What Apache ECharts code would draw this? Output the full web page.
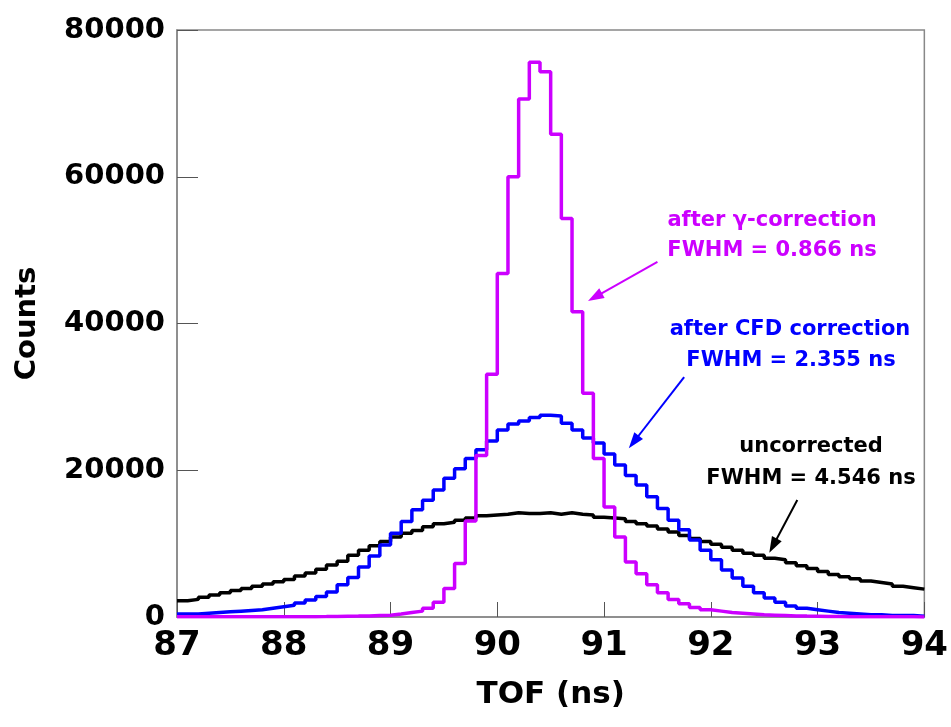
<!DOCTYPE html>
<html>
<head>
<meta charset="utf-8">
<script src="https://cdn.jsdelivr.net/npm/echarts@6/dist/echarts.min.js"></script>
<style>
html, body { margin: 0; padding: 0; background: #fff; }
#chart { width: 951px; height: 727px; }
</style>
</head>
<body>
<div id="chart"></div>
<script>
// histogram binning: 70 bins of 0.1 ns from 87 to 94
const binLow = 87;
const binWidth = 0.1;

// counts per bin (in thousands)
const uncorrected = [
    2.2, 2.4, 2.7, 3.0, 3.3, 3.6, 3.9, 4.2, 4.5, 4.8,
    5.1, 5.6, 6.0, 6.5, 7.1, 7.6, 8.4, 9.1, 9.7, 10.3,
    10.9, 11.4, 11.8, 12.3, 12.7, 12.9, 13.2, 13.5, 13.8, 13.9,
    14.0, 14.2, 14.1, 14.1, 14.2, 14.0, 14.2, 14.0, 13.9, 13.6,
    13.5, 13.4, 13.0, 12.7, 12.4, 12.0, 11.6, 11.1, 10.7, 10.3,
    9.9, 9.5, 9.1, 8.7, 8.4, 8.0, 7.8, 7.4, 7.0, 6.6,
    6.2, 5.8, 5.5, 5.2, 4.9, 4.7, 4.5, 4.2, 4.0, 3.8
];
const cfdCorrected = [
    0.4, 0.4, 0.5, 0.6, 0.7, 0.8, 0.9, 1.0, 1.2, 1.4,
    1.6, 1.9, 2.3, 2.8, 3.4, 4.4, 5.4, 6.8, 8.3, 9.8,
    11.4, 13.0, 14.6, 15.9, 17.3, 18.9, 20.2, 21.6, 22.8, 24.0,
    25.5, 26.3, 26.7, 27.2, 27.5, 27.4, 26.4, 25.5, 24.4, 23.7,
    22.2, 20.7, 19.3, 18.0, 16.4, 14.8, 13.2, 11.9, 10.5, 9.1,
    7.8, 6.4, 5.3, 4.2, 3.3, 2.6, 2.0, 1.5, 1.2, 1.0,
    0.8, 0.6, 0.5, 0.4, 0.3, 0.3, 0.2, 0.2, 0.2, 0.1
];
const gammaCorrected = [
    0.02, 0.02, 0.02, 0.02, 0.02, 0.02, 0.02, 0.02, 0.02, 0.02,
    0.03, 0.04, 0.05, 0.06, 0.08, 0.1, 0.12, 0.15, 0.2, 0.25,
    0.4, 0.6, 0.8, 1.2, 2.0, 3.9, 7.3, 13.1, 22.0, 33.1,
    46.8, 60.0, 70.6, 75.6, 74.3, 65.8, 54.3, 41.6, 30.5, 21.6,
    15.0, 10.9, 7.5, 5.9, 4.4, 3.3, 2.4, 1.8, 1.3, 1.0,
    0.8, 0.6, 0.5, 0.4, 0.3, 0.25, 0.2, 0.15, 0.12, 0.1,
    0.08, 0.06, 0.05, 0.04, 0.03, 0.03, 0.02, 0.02, 0.02, 0.01
];

// annotation arrows [x0, y0(k), x1, y1(k)] in data units
const gammaArrow = [91.50, 48.4, 90.915, 43.6];
const cfdArrow = [91.75, 32.7, 91.278, 23.85];
const uncorrArrow = [92.81, 15.95, 92.583, 9.72];

const FONT = '"DejaVu Sans", sans-serif';

function histData(vals) {
    let res = [];
    for (let i = 0; i < vals.length; i++) {
        res.push([+(binLow + i * binWidth).toFixed(1), vals[i] * 1000]);
    }
    // close the last bin
    res.push([+(binLow + vals.length * binWidth).toFixed(1), vals[vals.length - 1] * 1000]);
    return res;
}

function arrowLine(a, color) {
    return {
        silent: true,
        symbol: ['none', 'triangle'],
        symbolSize: [11, 16],
        label: { show: false },
        lineStyle: { color: color, width: 2, type: 'solid' },
        data: [[
            { coord: [a[0], a[1] * 1000] },
            { coord: [a[2], a[3] * 1000] }
        ]]
    };
}

function histSeries(name, vals, color, arrow) {
    return {
        name: name,
        type: 'line',
        step: 'end',
        symbol: 'none',
        data: histData(vals),
        lineStyle: { color: color, width: 3.5 },
        itemStyle: { color: color },
        markLine: arrowLine(arrow, color)
    };
}

function note(text, x, y, color) {
    return {
        type: 'text',
        x: x,
        y: y,
        style: {
            text: text,
            fill: color,
            font: 'bold 21px ' + FONT,
            align: 'center',
            verticalAlign: 'middle'
        }
    };
}

let myChart = echarts.init(document.getElementById('chart'));
let option = {
    animation: false,
    backgroundColor: '#ffffff',
    grid: {
        left: 177,
        right: 23,
        top: 30,
        bottom: 110,
        show: true,
        borderColor: '#888888',
        borderWidth: 1.5
    },
    xAxis: {
        type: 'value',
        min: 87,
        max: 94,
        interval: 1,
        name: 'TOF (ns)',
        nameLocation: 'middle',
        nameGap: 62,
        nameTextStyle: { fontFamily: FONT, fontWeight: 'bold', fontSize: 31, color: '#000' },
        axisLine: { lineStyle: { color: '#888888', width: 1.5 } },
        axisTick: { inside: true, length: 15, lineStyle: { color: '#555555', width: 1 } },
        axisLabel: {
            fontFamily: FONT, fontWeight: 'bold', fontSize: 34, color: '#000',
            margin: 12, showMinLabel: true, showMaxLabel: true
        },
        splitLine: { show: false }
    },
    yAxis: {
        type: 'value',
        min: 0,
        max: 80000,
        interval: 20000,
        name: 'Counts',
        nameLocation: 'middle',
        nameRotate: 90,
        nameGap: 135,
        nameTextStyle: { fontFamily: FONT, fontWeight: 'bold', fontSize: 29, color: '#000' },
        axisLine: { show: true, lineStyle: { color: '#888888', width: 1.5 } },
        axisTick: { show: true, inside: true, length: 21, lineStyle: { color: '#555555', width: 1 } },
        axisLabel: {
            fontFamily: FONT, fontWeight: 'bold', fontSize: 29, color: '#000',
            margin: 12, showMinLabel: true, showMaxLabel: true,
            formatter: function (v) { return String(v); }
        },
        splitLine: { show: false }
    },
    series: [
        histSeries('uncorrected', uncorrected, '#000000', uncorrArrow),
        histSeries('after CFD correction', cfdCorrected, '#0000ff', cfdArrow),
        histSeries('after gamma-correction', gammaCorrected, '#cc00ff', gammaArrow)
    ],
    graphic: [
        note('after γ-correction', 772, 221, '#cc00ff'),
        note('FWHM = 0.866 ns', 772, 251, '#cc00ff'),
        note('after CFD correction', 790, 330, '#0000ff'),
        note('FWHM = 2.355 ns', 791, 361, '#0000ff'),
        note('uncorrected', 811, 447, '#000000'),
        note('FWHM = 4.546 ns', 811, 479, '#000000')
    ]
};
myChart.setOption(option);
</script>
</body>
</html>
